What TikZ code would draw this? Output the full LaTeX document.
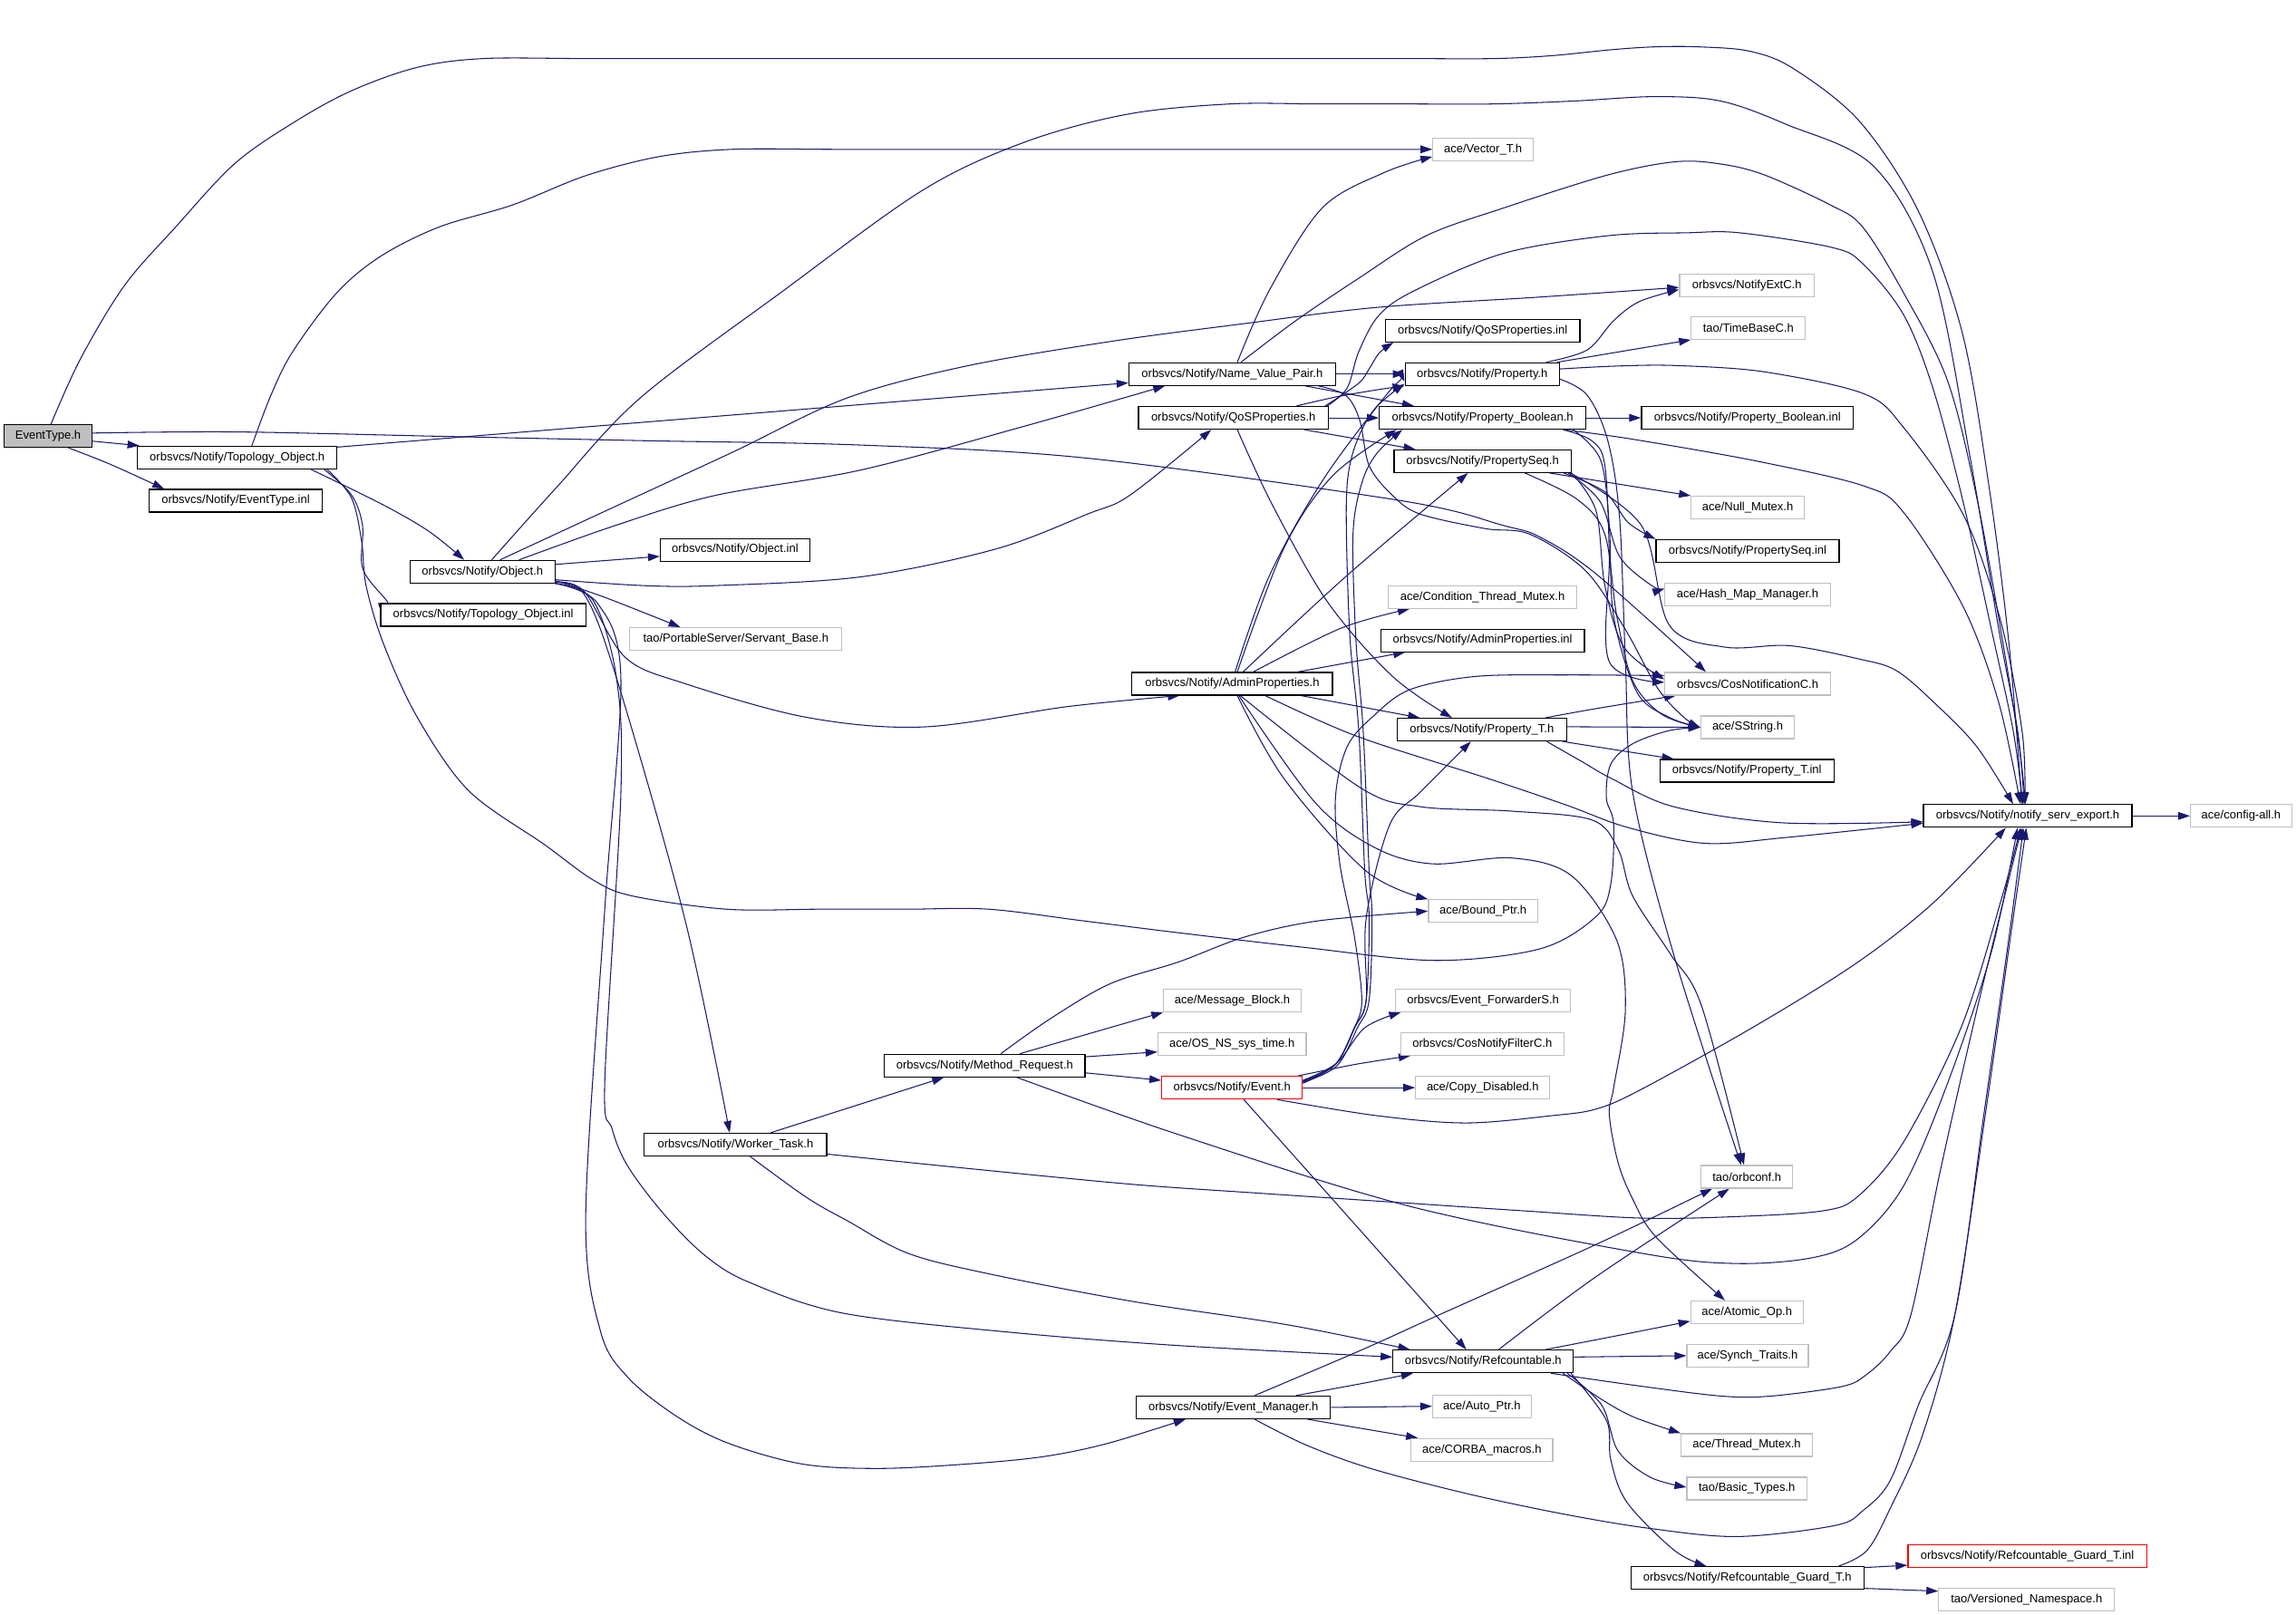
\documentclass[tikz,border=0pt]{standalone}
\usepackage{fontspec}
\setmainfont{Liberation Sans}
\usetikzlibrary{arrows.meta,calc,backgrounds}
\definecolor{eblue}{HTML}{191970}
\definecolor{lgray}{HTML}{BFBFBF}
\tikzset{
  nd/.style={draw=black, line width=1.2pt, fill=white, inner sep=0pt, minimum height=25pt, font=\fontsize{13}{15}\selectfont},
  gn/.style={nd, draw=lgray},
  rn/.style={nd, draw=red},
  rootnd/.style={nd, fill=lgray},
  edge/.style={draw=eblue, line width=1.05pt, -{Triangle[length=13pt,width=8.5pt]}},
  sm/.style={smooth, tension=0.55}
}
\newcommand{\mk}[6]{\node[#1, minimum width=#5*1.6154pt] (#2) at (#3,#4) {#6};}
\begin{document}
\begin{tikzpicture}[x={(1.6154pt,0pt)}, y={(0pt,-1.6154pt)}]
\useasboundingbox (0,0) rectangle (1568,1102.5);
% ---------------- nodes ----------------
\mk{rootnd}{ev}{32.8}{297.8}{59.6}{EventType.h}
\mk{nd}{tobj}{162}{312.5}{136}{orbsvcs/Notify/Topology\_Object.h}
\mk{nd}{evinl}{161}{342}{118}{orbsvcs/Notify/EventType.inl}
\mk{nd}{obj}{329.5}{390.5}{99}{orbsvcs/Notify/Object.h}
\mk{nd}{objinl}{502}{375.5}{102}{orbsvcs/Notify/Object.inl}
\mk{nd}{tobjinl}{330}{420}{140}{orbsvcs/Notify/Topology\_Object.inl}
\mk{gn}{servant}{502.5}{436.5}{145}{tao/PortableServer/Servant\_Base.h}
\mk{gn}{vec}{1012.8}{102}{68.5}{ace/Vector\_T.h}
\mk{gn}{extc}{1193}{194.8}{92}{orbsvcs/NotifyExtC.h}
\mk{nd}{qosinl}{1012.5}{225.8}{133}{orbsvcs/Notify/QoSProperties.inl}
\mk{gn}{timebase}{1194}{224}{78}{tao/TimeBaseC.h}
\mk{nd}{nvp}{841.5}{255.5}{141}{orbsvcs/Notify/Name\_Value\_Pair.h}
\mk{nd}{prop}{1012.3}{255.5}{105.5}{orbsvcs/Notify/Property.h}
\mk{nd}{qos}{842.3}{285.4}{129.5}{orbsvcs/Notify/QoSProperties.h}
\mk{nd}{pbool}{1012.5}{285.4}{141}{orbsvcs/Notify/Property\_Boolean.h}
\mk{nd}{pboolinl}{1193.3}{285.4}{144.6}{orbsvcs/Notify/Property\_Boolean.inl}
\mk{nd}{pseq}{1012.5}{315}{121}{orbsvcs/Notify/PropertySeq.h}
\mk{gn}{nullmx}{1193.5}{346.7}{77}{ace/Null\_Mutex.h}
\mk{nd}{pseqinl}{1193.5}{376.3}{125}{orbsvcs/Notify/PropertySeq.inl}
\mk{gn}{hashmap}{1193.5}{406}{113}{ace/Hash\_Map\_Manager.h}
\mk{gn}{condmx}{1012.5}{407.8}{129}{ace/Condition\_Thread\_Mutex.h}
\mk{nd}{adminl}{1012.5}{437.4}{139}{orbsvcs/Notify/AdminProperties.inl}
\mk{nd}{admin}{841.5}{467}{137}{orbsvcs/Notify/AdminProperties.h}
\mk{gn}{cosnot}{1193.5}{467}{113}{orbsvcs/CosNotificationC.h}
\mk{nd}{propt}{1012}{498.4}{116}{orbsvcs/Notify/Property\_T.h}
\mk{gn}{sstring}{1193.5}{496.8}{64}{ace/SString.h}
\mk{nd}{proptinl}{1193}{526.5}{119}{orbsvcs/Notify/Property\_T.inl}
\mk{nd}{nse}{1384.8}{557.3}{142.4}{orbsvcs/Notify/notify\_serv\_export.h}
\mk{gn}{cfg}{1530.5}{557.3}{69}{ace/config-all.h}
\mk{gn}{bptr}{1012.8}{622.3}{74.5}{ace/Bound\_Ptr.h}
\mk{gn}{msgblk}{841.6}{683.3}{93.8}{ace/Message\_Block.h}
\mk{gn}{ostime}{841.4}{713}{101.2}{ace/OS\_NS\_sys\_time.h}
\mk{nd}{mreq}{672.5}{727.8}{137}{orbsvcs/Notify/Method\_Request.h}
\mk{rn}{event}{841.4}{742.9}{96}{orbsvcs/Notify/Event.h}
\mk{gn}{evfwd}{1012.8}{683.3}{119.5}{orbsvcs/Event\_ForwarderS.h}
\mk{gn}{filterc}{1012.3}{713}{111.4}{orbsvcs/CosNotifyFilterC.h}
\mk{gn}{copydis}{1012.6}{742.9}{91.6}{ace/Copy\_Disabled.h}
\mk{nd}{worker}{502.3}{781.8}{124.6}{orbsvcs/Notify/Worker\_Task.h}
\mk{gn}{orbconf}{1193}{803.8}{62.6}{tao/orbconf.h}
\mk{gn}{atomic}{1193}{896.3}{76.7}{ace/Atomic\_Op.h}
\mk{nd}{refc}{1012.9}{929.9}{123.2}{orbsvcs/Notify/Refcountable.h}
\mk{gn}{synch}{1193.5}{926}{83}{ace/Synch\_Traits.h}
\mk{nd}{evmgr}{842.3}{961.3}{132.6}{orbsvcs/Notify/Event\_Manager.h}
\mk{gn}{autoptr}{1012}{960.5}{67.2}{ace/Auto\_Ptr.h}
\mk{gn}{corba}{1012}{990.3}{96.7}{ace/CORBA\_macros.h}
\mk{gn}{thmx}{1192.9}{987}{89.7}{ace/Thread\_Mutex.h}
\mk{gn}{btypes}{1193}{1016.8}{82}{tao/Basic\_Types.h}
\mk{nd}{rguard}{1193.3}{1077.8}{159}{orbsvcs/Notify/Refcountable\_Guard\_T.h}
\mk{rn}{rguardinl}{1384.5}{1063}{163}{orbsvcs/Notify/Refcountable\_Guard\_T.inl}
\mk{gn}{vns}{1384}{1092.8}{120}{tao/Versioned\_Namespace.h}
% ---------------- edges ----------------
\begin{pgfonlayer}{background}
\fill[white] (0,0) rectangle (1568,1102.5);
% EventType.h
\draw[edge] plot[sm] coordinates {($(ev.north)+(2,0)$) (55,245) (85,195) (120,155) (160,112) (200,84) (240,62) (285,46) (330,40) (400,40) (470,40) (540,40) (610,40) (680,40) (750,40) (820,40) (890,40) (960,40) (1020,40) (1060,38) (1100,34) (1130,32) (1160,32) (1195,35) (1225,47) (1270,83) (1310,144) (1340,227) (1358,330) (1372,440) ($(nse.north)+(-4,0)$)};
\draw[edge] ($(ev.east)+(0,3.5)$) -- ($(tobj.north west)+(1.5,0)$);
\draw[edge] plot[sm] coordinates {($(ev.south)+(14,0)$) (75,317) ($(evinl.north west)+(10.5,0)$)};
\draw[edge] plot[sm] coordinates {($(ev.east)+(0,-2)$) (160,295) (300,298) (440,301) (588,304) (743,313) (957,342) (1027,359) (1052,367) (1090,392) ($(cosnot.north)+(-28.5,0)$)};
% Topology_Object.h
\draw[edge] ($(tobj.north east)+(0,1)$) -- ($(nvp.west)+(0,6)$);
\draw[edge] plot[sm] coordinates {($(tobj.north)+(10,0)$) (185,270) (200,240) (230,200) (260,175) (300,155) (350,140) (400,120) (450,107) (500,102) (570,102) (640,102) (710,102) (780,102) (850,102) (915,102) (vec.west)};
\draw[edge] plot[sm] coordinates {($(tobj.south east)+(-18,0)$) (262,345) (293,363) ($(obj.north)+(-12.5,0)$)};
\draw[edge] plot[sm] coordinates {($(tobj.south east)+(-9,0)$) (240,338) (247.6,359) (247.6,388) (262.7,408.6) ($(tobjinl.north west)+(7,0)$)};
\draw[edge] plot[sm] coordinates {($(tobj.south east)+(-7,0)$) (240,340) (247,370) (250,400) (262,440) (285,490) (320,540) (372,577) (405,601) (432,612) (496,621) (560,621) (620,621) (675,621) (740,629) (804,637) (890,647) (980,656) (1052,648) (1090,626) (1100,604) (1102,563) (1097,545) (1100,522) (1115,508) (1140,499) (sstring.west)};
% Object.h
\draw[edge] ($(obj.east)+(0,-5)$) -- ($(objinl.west)+(0,4.5)$);
\draw[edge] plot[sm] coordinates {($(obj.south east)+(0,-2)$) (413,408) ($(servant.north west)+(35,0)$)};
\draw[edge] plot[sm] coordinates {($(obj.north)+(6.3,0)$) (380,333) (437,272) (533,200) (630,130) (700,97) (770,78) (840,71) (900,71) (960,71) (1020,71) (1075,69) (1130,66) (1175,69) (1220,85) (1280,114) (1320,186) (1345,310) (1365,430) (1378,500) ($(nse.north)+(-2.5,0)$)};
\draw[edge] plot[sm] coordinates {($(obj.north)+(12,0)$) (420,346) (500,309) (578,272) (660,250) (760,233) (850,221) (940,210) (1050,203) ($(extc.west)+(0,1.5)$)};
\draw[edge] plot[sm] coordinates {($(obj.north)+(25,0)$) (420,359) (488,338.5) (588,321) (700,291) ($(nvp.south west)+(25,0)$)};
\draw[edge] plot[sm] coordinates {($(obj.east)+(0,5.5)$) (440,400) (488,400) (588,394) (680,375) (743,351) (772,338) ($(qos.south west)+(50,0)$)};
\draw[edge] plot[sm] coordinates {($(obj.south east)+(0,-1)$) (399,404) (427,449) (468,467) (551,490) (631,496.5) (730,482.5) ($(admin.south west)+(33,0)$)};
\draw[edge] plot[sm] coordinates {($(obj.south east)+(0,-0.5)$) (399,406) (421,463) (468,629) ($(worker.north)+(-4,0)$)};
\draw[edge] plot[sm] coordinates {(obj.south east) (405,410) (421,463) (424,542) (413,739) (418,771) (429,797) (454,830) (482,858) (512,876) (576,897) (690,910) (804,919) ($(refc.west)+(0,-3)$)};
\draw[edge] plot[sm] coordinates {(obj.south east) (408,412) (424,463) (413,621) (400,830) (410,909) (429,941) (463,968) (498,986) (548,1000) (600,1003) (660,1000) (712,995) (756,986) ($(evmgr.south west)+(34,0)$)};
% Name_Value_Pair.h
\draw[edge] plot[sm] coordinates {($(nvp.north)+(3.5,0)$) (867,198) (903,142) (945,118) ($(vec.west)+(0,5)$)};
\draw[edge] (nvp.east) -- (prop.west);
\draw[edge] plot[sm] coordinates {($(nvp.north)+(6,0)$) (885,219) (928,190) (974,161) (1027,142) (1098,119.5) (1144,110.5) (1175,112) (1205,119.5) (1250,140) (1272,155) (1300,200) (1330,260) (1350,340) (1368,440) (1379,510) ($(nse.north)+(-1.5,0)$)};
\draw[edge] ($(nvp.south east)+(-21,0)$) -- ($(pbool.north west)+(24,0)$);
\draw[edge] plot[sm] coordinates {($(nvp.south east)+(-12,0)$) (919,270) (928.6,287) (935,318) (950.6,338) (969.5,351) (1014,361) (1045,365) (1083,390) (1110,430) (1132,470) (1150,490) (sstring.west)};
% QoSProperties.h
\draw[edge] plot[sm] coordinates {($(qos.north east)+(-2.5,0)$) (927.6,262) (935,252) (942,241) ($(qosinl.south west)+(6,0)$)};
\draw[edge] plot[sm] coordinates {($(qos.north east)+(-1,0)$) (920,265) (928,240) (942,215) (967,198) (1027,173) (1098,161) (1152,159) (1188,159) (1251,169) (1272,180) (1300,215) (1320,265) (1340,340) (1360,430) (1375,500) ($(nse.north)+(-3.5,0)$)};
\draw[edge] plot[sm] coordinates {($(qos.north east)+(-22,0)$) (913,271) (942,266) (prop.south west)};
\draw[edge] (qos.east) -- (pbool.west);
\draw[edge] ($(qos.south east)+(-16.6,0)$) -- ($(pseq.north west)+(15,0)$);
\draw[edge] plot[sm] coordinates {($(qos.south)+(2.7,0)$) (869,345) (906.5,411) (951,462) ($(propt.north west)+(38,0)$)};
% Property_Boolean.h
\draw[edge] (pbool.east) -- (pboolinl.west);
\draw[edge] plot[sm] coordinates {($(pbool.south east)+(-15.5,0)$) (1115,300) (1200,315) (1273,332) (1300,350) (1341,415) (1365,480) ($(nse.north)+(-5,0)$)};
\draw[edge] plot[sm] coordinates {($(pbool.south east)+(-16,0)$) (1087,301) (1096,318) (1099,380) (1099,452) ($(cosnot.west)+(0,-1)$)};
\draw[edge] plot[sm] coordinates {($(pbool.south east)+(-9,0)$) (1093,314) (1099,359) (1102,421) (1118,473) (1140,490) (sstring.west)};
% PropertySeq.h
\draw[edge] ($(pseq.south east)+(-15,0)$) -- (nullmx.north west);
\draw[edge] plot[sm] coordinates {($(pseq.south east)+(-5.5,0)$) (1096,336) (1112,357) (pseqinl.north west)};
\draw[edge] plot[sm] coordinates {($(pseq.south east)+(-2.3,0)$) (1093,343) (1106,380) (1128,400) ($(hashmap.west)+(0,-4)$)};
\draw[edge] plot[sm] coordinates {(pseq.south east) (1090,349) (1096,400) (1109,442) ($(cosnot.west)+(0,-3)$)};
\draw[edge] plot[sm] coordinates {($(pseq.south east)+(-32,0)$) (1077,341) (1096,365) (1104,420) (1115,465) (1135,488) (sstring.west)};
\draw[edge] plot[sm] coordinates {($(pseq.south east)+(-1,0)$) (1121,359) (1140,427) (1178,442) (1222,441) (1269,450) (1295,458) (1322,481) (1350,510) ($(nse.north)+(-10,0)$)};
% Property.h
\draw[edge] plot[sm] coordinates {($(prop.north east)+(-9.5,0)$) (1084,239) (1102,219) (1119.5,206) ($(extc.west)+(0,3)$)};
\draw[edge] ($(prop.north east)+(-2,0)$) -- (timebase.south west);
\draw[edge] plot[sm] coordinates {($(prop.east)+(0,-3.5)$) (1105,250) (1145,249.7) (1205,254) (1273,269) (1300,292) (1341,352) (1366,423) (1381,500) ($(nse.north)+(-2,0)$)};
\draw[edge] plot[sm] coordinates {($(prop.east)+(0,3.5)$) (1084,270) (1098,301) (1106,353) (1110,450) (1115,541) (1143,652) ($(orbconf.north)+(-4,0)$)};
% AdminProperties.h
\draw[edge] plot[sm] coordinates {($(admin.north)+(2,0)$) (867,393) (904,327) (949,267) ($(prop.south west)+(0,-3)$)};
\draw[edge] plot[sm] coordinates {($(admin.north)+(3.5,0)$) (877,374) (910,325) ($(pbool.south west)+(12,0)$)};
\draw[edge] plot[sm] coordinates {($(admin.north)+(7.5,0)$) (920,393) ($(pseq.south)+(-10,0)$)};
\draw[edge] plot[sm] coordinates {($(admin.north)+(14.5,0)$) (916,429) ($(condmx.south west)+(15,0)$)};
\draw[edge] ($(admin.north east)+(-24,0)$) -- ($(adminl.south west)+(17,0)$);
\draw[edge] ($(admin.south east)+(-22,0)$) -- ($(propt.north west)+(16,0)$);
\draw[edge] plot[sm] coordinates {($(admin.south)+(3.5,0)$) (877,532) (933,595) (bptr.north west)};
\draw[edge] plot[sm] coordinates {($(admin.south)+(4.5,0)$) (898,548) (939,579) (978,590) (1032,586) (1073,598) (1104,642) (1110,690) (1102,743) (1099,761) (1105,794) (1115,819) (1131,845) ($(atomic.north)+(-15,0)$)};
\draw[edge] plot[sm] coordinates {($(admin.south)+(5.5,0)$) (929,538) (970,551) (1032,554) (1087,560) (1105,580) (1115,612) (1141,652) (1162,687) ($(orbconf.north)+(-2,0)$)};
\draw[edge] plot[sm] coordinates {($(admin.south)+(22.5,0)$) (927,503) (1017,532) (1070,550) (1111,565) (1164,576) (1220,572) ($(nse.west)+(0,5)$)};
% Property_T.h
\draw[edge] plot[sm] coordinates {($(propt.north east)+(-15,0)$) (1090,484) ($(cosnot.south west)+(8,0)$)};
\draw[edge] ($(propt.east)+(0,-2)$) -- (sstring.west);
\draw[edge] ($(propt.south east)+(-3,0)$) -- ($(proptinl.north west)+(10,0)$);
\draw[edge] plot[sm] coordinates {($(propt.south east)+(-14,0)$) (1080,520) (1101,532) (1143,551) (1217,562) ($(nse.west)+(0,4)$)};
% notify_serv_export.h
\draw[edge] (nse.east) -- (cfg.west);
% Method_Request.h
\draw[edge] plot[sm] coordinates {($(mreq.north)+(11,0)$) (717,696) (758,672) (805,657) (850,640) (900,629) (bptr.west)};
\draw[edge] ($(mreq.north)+(24,0)$) -- (msgblk.south west);
\draw[edge] ($(mreq.east)+(0,-6)$) -- ($(ostime.west)+(0,5.5)$);
\draw[edge] ($(mreq.east)+(0,5)$) -- ($(event.west)+(0,-5)$);
\draw[edge] plot[sm] coordinates {($(mreq.south)+(22,0)$) (805,775) (963,824) (1121,856) (1185,863) (1238,859) (1269,846) (1300,810) (1330,740) (1360,650) ($(nse.south)+(-7,0)$)};
% Worker_Task.h
\draw[edge] ($(worker.north)+(24,0)$) -- ($(mreq.south west)+(41,0)$);
\draw[edge] plot[sm] coordinates {($(worker.east)+(0,6.5)$) (670,799) (774,809) (860,815) (950,821) (1040,827) (1121,832) (1185,831) (1245,827) (1269,817) (1300,780) (1340,700) (1368,610) ($(nse.south)+(-5,0)$)};
\draw[edge] plot[sm] coordinates {($(worker.south)+(10,0)$) (551,818) (579,834) (620,856) (675,870) (774,889) (880,905) ($(refc.north west)+(12,0)$)};
% Event.h
\draw[edge] ($(event.south)+(8,0)$) -- ($(refc.north)+(-11.5,0)$);
\draw[edge] (event.east) -- (copydis.west);
\draw[edge] plot[sm] coordinates {($(event.north east)+(-3,0)$) (925.6,727) ($(filterc.south west)+(7,0)$)};
\draw[edge] plot[sm] coordinates {($(event.east)+(0,-5)$) (913,726) (932,702) ($(evfwd.south west)+(4,0)$)};
\draw[edge] plot[sm] coordinates {($(event.south east)+(-17.7,0)$) (940,762) (1001,767) (1060,762) (1090,757.5) (1121,744) (1200,700) (1269,657) (1321,616) ($(nse.south)+(-15,0)$)};
\draw[edge] plot[sm] coordinates {($(event.east)+(0,-4)$) (912,727) (925,702) (933,683) (935,627) (932,595) (928,500) (922,437) (919.5,364.5) (920.4,326.6) (926.6,301.4) (939,279) ($(prop.south west)+(0,-1.5)$)};
\draw[edge] plot[sm] coordinates {($(event.east)+(0,-3.5)$) (913,728) (927,702) (935,683) (937,627) (935,595) (931,500) (926,437) (924,365) (930,330) (940,310) ($(pbool.south west)+(16,0)$)};
\draw[edge] plot[sm] coordinates {($(event.east)+(0,-3)$) (912,727) (925,702) (933,683) (933,627) (949,563.5) (970,541) ($(propt.south)+(-7.5,0)$)};
\draw[edge] plot[sm] coordinates {($(event.east)+(0,-4.5)$) (912,727) (925,702) (930,683) (925,640) (915,590) (912,545) (920,510) (938,489) (963,471) (1008,462) (1070,461) ($(cosnot.west)+(0,-5.5)$)};
% Event_Manager.h
\draw[edge] plot[sm] coordinates {($(evmgr.north east)+(-24,0)$) (930,945) ($(refc.south west)+(14,0)$)};
\draw[edge] (evmgr.east) -- (autoptr.west);
\draw[edge] ($(evmgr.south east)+(-16,0)$) -- ($(corba.north west)+(5,0)$);
\draw[edge] plot[sm] coordinates {($(evmgr.north)+(14.5,0)$) (930,922) (983,898) (1090,850) ($(orbconf.south west)+(8,0)$)};
\draw[edge] plot[sm] coordinates {($(evmgr.south)+(14.5,0)$) (892,987) (936,1003) (1001,1020) (1067,1034) (1127,1044) (1187,1049.5) (1253,1042) (1272,1032) (1291,1011) (1310,960) (1335,898) (1355,760) (1372,640) ($(nse.south)+(-3,0)$)};
% Refcountable.h
\draw[edge] plot[sm] coordinates {($(refc.north east)+(-19.5,0)$) (1106,912) ($(atomic.south west)+(0,-2)$)};
\draw[edge] ($(refc.east)+(0,-3)$) -- (synch.west);
\draw[edge] plot[sm] coordinates {($(refc.north)+(10.6,0)$) (1090,872) ($(orbconf.south)+(-12,0)$)};
\draw[edge] plot[sm] coordinates {($(refc.south east)+(-15.6,0)$) (1122,947) (1176,953.6) (1209,953.6) (1258,947) (1274.5,939) (1291,923) (1305,898) (1325,800) (1350,690) (1372,600) ($(nse.south)+(-4,0)$)};
\draw[edge] plot[sm] coordinates {($(refc.south east)+(-7.5,0)$) (1094,956) (1116,968) (thmx.north west)};
\draw[edge] plot[sm] coordinates {($(refc.south east)+(-4.5,0)$) (1094,960) (1105,991) (1127,1009) ($(btypes.west)+(0,-1)$)};
\draw[edge] plot[sm] coordinates {($(refc.south east)+(-2,0)$) (1097,970) (1100,997) (1111,1026) (1143.5,1059) ($(rguard.north)+(-28,0)$)};
% Refcountable_Guard_T.h
\draw[edge] ($(rguard.north east)+(0,1)$) -- ($(rguardinl.south west)+(0,-2)$);
\draw[edge] ($(rguard.south east)+(0,-1)$) -- ($(vns.west)+(0,-6)$);
\draw[edge] plot[sm] coordinates {($(rguard.north east)+(-17.5,0)$) (1275,1059) (1291,1030) (1313,980) (1335,898) (1356,760) (1373,640) ($(nse.south)+(-1,0)$)};
\end{pgfonlayer}
\end{tikzpicture}
\end{document}
